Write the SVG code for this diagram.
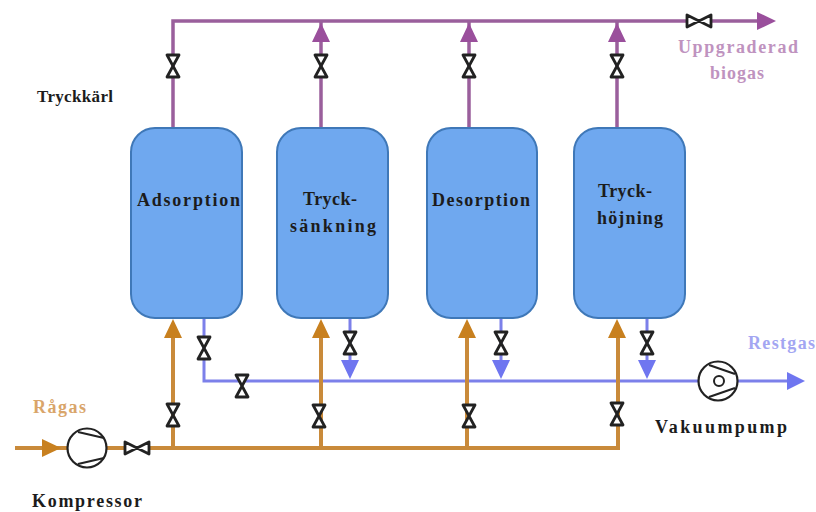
<svg xmlns="http://www.w3.org/2000/svg" width="816" height="512" viewBox="0 0 816 512">
<defs>
<symbol id="vv" overflow="visible"><path d="M-6,-11H6L-6,11H6Z" fill="#fff" stroke="#222" stroke-width="2.8" stroke-linejoin="round"/></symbol>
<symbol id="vh" overflow="visible"><path d="M-12,-6V6L12,-6V6Z" fill="#fff" stroke="#222" stroke-width="2.8" stroke-linejoin="round"/></symbol>
</defs>
<style>
.o{stroke:#c98a3a;stroke-width:4;fill:none}
.p{stroke:#9a5f9c;stroke-width:3.5;fill:none}
.b{stroke:#7c80ea;stroke-width:3;fill:none}
.t{font-family:"Liberation Serif",serif;font-weight:bold;font-size:18px}
.s{font-size:17px}
.k{fill:#1c1c1c}
.v{fill:#6fa8ef;stroke:#3f78b8;stroke-width:2}
</style>
<rect width="816" height="512" fill="#fff"/>
<g id="connectors">
<path class="p" d="M173,127V21H762M321,127V21M469,127V21M617,127V21"/>
<path class="b" d="M204,319V381H790M350,319V364M501,319V364M647,319V364"/>
<path class="o" d="M15,448H618V330M173,448V330M321,448V330M467,448V330"/>
<path d="M757,12L776,21L757,30Z" fill="#9a4f9c"/>
<path d="M312,42L321,23L330,42ZM460,42L469,23L478,42ZM608,42L617,23L626,42Z" fill="#9a4f9c"/>
<path d="M787,372L805,381L787,390Z" fill="#6f76f0"/>
<path d="M341,360H359L350,379ZM492,360H510L501,379ZM638,360H656L647,379Z" fill="#6f76f0"/>
<path d="M164,338L173,319L182,338ZM312,338L321,319L330,338ZM458,338L467,319L476,338ZM608,338L617,319L626,338Z" fill="#c8801f"/>
<path d="M42,439L61,448L42,457Z" fill="#c8801f"/>
</g>
<g id="v1"><rect class="v" x="131" y="128" width="111" height="190" rx="24"/><text class="t k" x="137" y="206" textLength="103">Adsorption</text></g>
<g id="v2"><rect class="v" x="277" y="128" width="111" height="190" rx="24"/><text class="t k" x="303" y="205" textLength="54">Tryck-</text><text class="t k" x="290" y="232" textLength="86">sänkning</text></g>
<g id="v3"><rect class="v" x="427" y="128" width="110" height="190" rx="24"/><text class="t k" x="432" y="206" textLength="98">Desorption</text></g>
<g id="v4"><rect class="v" x="574" y="128" width="111" height="190" rx="24"/><text class="t k" x="598" y="197" textLength="54">Tryck-</text><text class="t k" x="597" y="224" textLength="66">höjning</text></g>
<g id="valves">
<use href="#vv" x="173" y="66"/><use href="#vv" x="321" y="66"/><use href="#vv" x="469" y="66"/><use href="#vv" x="617" y="66"/>
<use href="#vh" x="699" y="21"/>
<use href="#vv" x="204" y="348"/><use href="#vv" x="350" y="343"/><use href="#vv" x="501" y="343"/><use href="#vv" x="647" y="343"/>
<use href="#vv" x="242" y="386"/>
<use href="#vv" x="173" y="415"/><use href="#vv" x="319" y="416"/><use href="#vv" x="469" y="416"/><use href="#vv" x="617" y="414"/>
<use href="#vh" x="137" y="448"/>
</g>
<g id="kompressor"><circle cx="87" cy="448" r="19.5" fill="#fff" stroke="#222" stroke-width="2.2"/><path d="M78,432L104,438M78,464L104,458" stroke="#222" stroke-width="2.2" fill="none"/></g>
<g id="vakuumpump"><circle cx="718" cy="381" r="19.5" fill="#fff" stroke="#222" stroke-width="2.2"/><path d="M709,365L735,374M709,397L735,388" stroke="#222" stroke-width="2.2" fill="none"/><circle cx="719" cy="381" r="5" fill="#fff" stroke="#222" stroke-width="2"/></g>
<g id="labels">
<text class="t s k" x="37" y="102" textLength="76">Tryckkärl</text>
<text class="t" x="33" y="413" textLength="53" fill="#d9a56a">Rågas</text>
<text class="t k" x="32" y="507" textLength="110">Kompressor</text>
<text class="t k" x="655" y="433" textLength="132">Vakuumpump</text>
<text class="t" x="748" y="349" textLength="67" fill="#a3a6f2">Restgas</text>
<text class="t" x="678" y="53" textLength="120" fill="#bf93bf">Uppgraderad</text>
<text class="t" x="710" y="79" textLength="54" fill="#bf93bf">biogas</text>
</g>
</svg>
